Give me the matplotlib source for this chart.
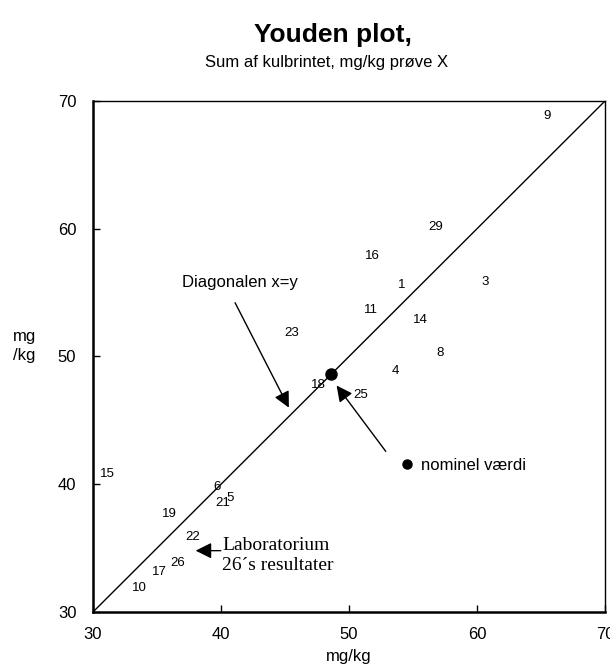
import matplotlib.pyplot as plt

plt.rcParams['font.family'] = ['Liberation Sans', 'DejaVu Sans']

# laboratory results (x = sample X, y = sample Y), label = lab number
labs = ['9', '29', '16', '1', '3', '11', '14', '23', '8', '4', '18', '25',
        '15', '6', '5', '21', '19', '22', '26', '17', '10']
x_vals = [65.5, 56.8, 51.8, 54.1, 60.6, 51.7, 55.6, 45.5, 57.1, 53.6, 47.6, 50.9,
          31.1, 39.7, 40.7, 40.1, 36.0, 37.8, 36.6, 35.2, 33.6]
y_vals = [68.8, 60.1, 57.9, 55.6, 55.8, 53.6, 52.85, 51.8, 50.3, 48.9, 47.8, 47.0,
          40.8, 39.8, 38.9, 38.5, 37.7, 35.9, 33.8, 33.1, 31.9]

nominal = (48.6, 48.6)
ticks = [30, 40, 50, 60, 70]

fig = plt.figure(figsize=(6.1, 6.67), dpi=100)
ax = fig.add_axes([0.1525, 0.0825, 0.8393, 0.7661])

ax.set_xlim(30, 70)
ax.set_ylim(30, 70)
ax.plot([30, 70], [30, 70], color='black', lw=1.0)

for lab, x, y in zip(labs, x_vals, y_vals):
    ax.text(x, y, lab, fontsize=9.5, ha='center', va='center')

ax.plot(*nominal, 'o', color='black', ms=8)
ax.plot(54.5, 41.6, 'o', color='black', ms=6.5)
ax.text(55.6, 41.5, 'nominel værdi', fontsize=12, va='center')

arrow = dict(arrowstyle='-|>', color='black', lw=1.0, mutation_scale=24)
ax.annotate('', xy=(48.9, 47.9), xytext=(53.0, 42.4), arrowprops=arrow)
ax.annotate('', xy=(45.4, 45.8), xytext=(41.0, 54.4), arrowprops=arrow)
ax.text(41.5, 55.8, 'Diagonalen x=y', fontsize=12, ha='center', va='center')

ax.annotate('', xy=(37.8, 34.8), xytext=(40.2, 34.8), arrowprops=arrow)
ax.text(40.1, 34.4, 'Laboratorium\n26´s resultater', fontsize=14,
        family='Liberation Serif', va='center', linespacing=1.25)

ax.set_xticks(ticks)
ax.set_yticks(ticks)
ax.tick_params(direction='in', length=5, labelsize=12, width=1)
ax.tick_params(axis='x', pad=11)
ax.tick_params(axis='y', pad=12)
for side in ['left', 'bottom']:
    ax.spines[side].set_linewidth(1.8)
for side in ['right', 'top']:
    ax.spines[side].set_linewidth(1.0)

ax.set_xlabel('mg/kg', fontsize=12, labelpad=5)
fig.text(0.04, 0.481, 'mg\n/kg', fontsize=12, ha='center', va='center', linespacing=1.3)

fig.text(0.546, 0.948, 'Youden plot,', fontsize=19, fontweight='bold', ha='center', va='center')
fig.text(0.536, 0.906, 'Sum af kulbrintet, mg/kg prøve X', fontsize=12, ha='center', va='center')

fig.savefig('out.png', dpi=100)
